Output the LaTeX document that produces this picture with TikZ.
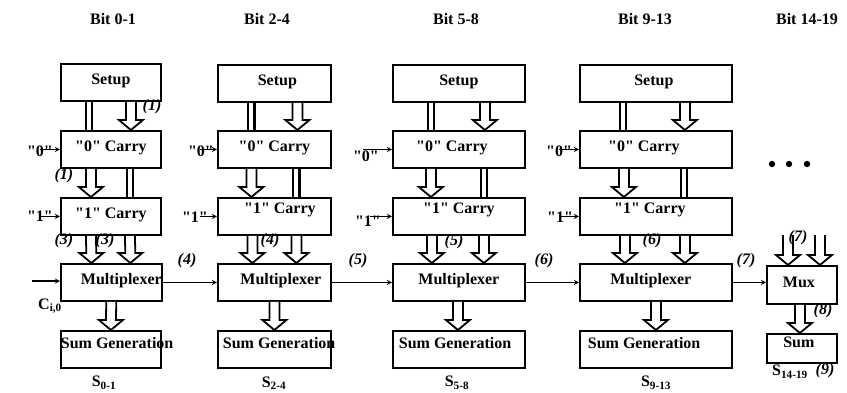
\documentclass[tikz,border=0pt]{standalone}
\usepackage{fontspec}
\setmainfont{Liberation Serif}
\usetikzlibrary{calc}

\begin{document}
\begin{tikzpicture}[x=1pt,y=-1pt,>=stealth,font=\fontsize{16}{18}\selectfont\bfseries,
  box/.style={draw,line width=1.8pt,minimum height=37pt,inner sep=0pt,anchor=north west,text height=11pt,text depth=6pt},
  top/.style={text depth=17pt},
  low/.style={text depth=12pt},
  nudge/.style={execute at begin node={\hspace*{#1}}},
  num/.style={font=\fontsize{16}{18}\selectfont\bfseries\itshape},
  thin/.style={->,line width=1.3pt},
  dbl/.style={double,double distance=4pt,line width=2.2pt},
  hollow/.style={fill=white,line width=1.8pt,line join=miter,to path={
    ($(\tikztostart)+(-5pt,0pt)$) -- ($(\tikztotarget)+(-5pt,10pt)$) -- ($(\tikztotarget)+(-12pt,10pt)$) -- (\tikztotarget)
    -- ($(\tikztotarget)+(12pt,10pt)$) -- ($(\tikztotarget)+(5pt,10pt)$) -- ($(\tikztostart)+(5pt,0pt)$)}}]
\useasboundingbox (0,0) rectangle (847,392);

% column titles
\node (b1) at (113,19) {Bit 0-1};
\node (b2) at (267,19) {Bit 2-4};
\node (b3) at (456,19) {Bit 5-8};
\node (b4) at (645,19) {Bit 9-13};
\node (b5) at (807,19) {Bit 14-19};

% bit 0-1
\node[box,minimum width=100pt] (s1) at (60,63) {Setup};
\node[box,minimum width=100pt] (z1) at (60,130) {\textquotedbl0\textquotedbl{} Carry};
\node[box,minimum width=100pt] (o1) at (60,197) {\textquotedbl1\textquotedbl{} Carry};
\node[box,minimum width=100pt,nudge=20pt] (m1) at (60,263) {Multiplexer};
\node[box,minimum width=100pt,low] (g1) at (60,330) {\makebox[100pt][l]{Sum Generation}};

% bit 2-4
\node[box,minimum width=113pt,nudge=6pt] (s2) at (217,64) {Setup};
\node[box,minimum width=113pt] (z2) at (217,130) {\textquotedbl0\textquotedbl{} Carry};
\node[box,minimum width=113pt,top,nudge=11pt] (o2) at (217,197) {\textquotedbl1\textquotedbl{} Carry};
\node[box,minimum width=113pt,nudge=13pt] (m2) at (217,263) {Multiplexer};
\node[box,minimum width=113pt,low] (g2) at (217,330) {\makebox[113pt][l]{\hspace*{5pt}Sum Generation}};

% bit 5-8
\node[box,minimum width=132pt] (s3) at (392,64) {Setup};
\node[box,minimum width=132pt,nudge=-14pt] (z3) at (392,130) {\textquotedbl0\textquotedbl{} Carry};
\node[box,minimum width=132pt,top] (o3) at (392,197) {\textquotedbl1\textquotedbl{} Carry};
\node[box,minimum width=132pt] (m3) at (392,263) {Multiplexer};
\node[box,minimum width=132pt,low] (g3) at (392,330) {\makebox[132pt][l]{\hspace*{6pt}Sum Generation}};

% bit 9-13
\node[box,minimum width=152pt,nudge=-4pt] (s4) at (579,64) {Setup};
\node[box,minimum width=152pt,nudge=-24pt] (z4) at (579,130) {\textquotedbl0\textquotedbl{} Carry};
\node[box,minimum width=152pt,top,nudge=-12pt] (o4) at (579,197) {\textquotedbl1\textquotedbl{} Carry};
\node[box,minimum width=152pt,nudge=-10pt] (m4) at (579,263) {Multiplexer};
\node[box,minimum width=152pt,low] (g4) at (579,330) {\makebox[152pt][l]{\hspace*{8pt}Sum Generation}};

% bit 14-19
\node[box,minimum width=70pt,minimum height=38pt,nudge=-6pt] (m5) at (766,265) {Mux};
\node[box,minimum width=70pt,minimum height=29pt,low,nudge=-6pt] (g5) at (766,333) {Sum};
\coordinate (t5a) at (788,235);
\coordinate (t5b) at (820,235);
\fill (772,164) circle (3.2pt) (789,164) circle (3.2pt) (807,164) circle (3.2pt);

% outputs
\node (r1) at (104,383) {S\textsubscript{0-1}};
\node (r2) at (274,383) {S\textsubscript{2-4}};
\node (r3) at (457,383) {S\textsubscript{5-8}};
\node (r4) at (656,383) {S\textsubscript{9-13}};
\node (r5) at (790,372) {S\textsubscript{14-19}};

% carry inputs
\node (q01) at (40,151) {\textquotedbl0\textquotedbl};
\node (q11) at (40,216) {\textquotedbl1\textquotedbl};
\node (q02) at (201,151) {\textquotedbl0\textquotedbl};
\node (q12) at (195,217) {\textquotedbl1\textquotedbl};
\node (q03) at (366,156) {\textquotedbl0\textquotedbl};
\node (q13) at (368,221) {\textquotedbl1\textquotedbl};
\node (q04) at (559,151) {\textquotedbl0\textquotedbl};
\node (q14) at (560,217) {\textquotedbl1\textquotedbl};
\draw[thin] (q01 |- z1.west) -- (z1.west);
\draw[thin] (q11 |- o1.west) -- (o1.west);
\draw[thin] ([xshift=-1pt]q02 |- z2.west) -- (z2.west);
\draw[thin] ([xshift=5pt]q12 |- o2.west) -- (o2.west);
\draw[thin] ([xshift=-3pt]q03 |- z3.west) -- (z3.west);
\draw[thin] ([xshift=2pt]q13 |- o3.west) -- (o3.west);
\draw[thin] (q04 |- z4.west) -- (z4.west);
\draw[thin] (q14 |- o4.west) -- (o4.west);

% carry in and ripple between blocks
\node (cin) at (50,306) {C\textsubscript{i,0}};
\coordinate (cst) at (32,281);
\draw[thin] (cst) -- (cst -| m1.west);
\draw[thin] (m1.east) -- (m2.west);
\draw[thin] (m2.east) -- (m3.west);
\draw[thin] (m3.east) -- (m4.west);
\draw[thin] (m4.east) -- (m4.east -| m5.west);

% buses, bit 0-1
\draw[dbl] ([xshift=-22pt]s1.south) -- ([xshift=-22pt]z1.north);
\draw[hollow] ([xshift=20pt]s1.south) to ([xshift=20pt]z1.north);
\draw[hollow] ([xshift=-20pt]z1.south) to ([xshift=-20pt]o1.north);
\draw[dbl] ([xshift=19pt]z1.south) -- ([xshift=19pt]o1.north);
\draw[hollow] ([xshift=-20pt]o1.south) to ([xshift=-20pt]m1.north);
\draw[hollow] ([xshift=19pt]o1.south) to ([xshift=19pt]m1.north);
\draw[hollow] (m1.south) to (g1.north);

% buses, bit 2-4
\draw[dbl] ([xshift=-23pt]s2.south) -- ([xshift=-23pt]z2.north);
\draw[hollow] ([xshift=23pt]s2.south) to ([xshift=23pt]z2.north);
\draw[hollow] ([xshift=-23pt]z2.south) to ([xshift=-23pt]o2.north);
\draw[dbl] ([xshift=22pt]z2.south) -- ([xshift=22pt]o2.north);
\draw[hollow] ([xshift=-22pt]o2.south) to ([xshift=-22pt]m2.north);
\draw[hollow] ([xshift=22pt]o2.south) to ([xshift=22pt]m2.north);
\draw[hollow] (m2.south) to (g2.north);

% buses, bit 5-8
\draw[dbl] ([xshift=-28pt]s3.south) -- ([xshift=-28pt]z3.north);
\draw[hollow] ([xshift=26pt]s3.south) to ([xshift=26pt]z3.north);
\draw[hollow] ([xshift=-28pt]z3.south) to ([xshift=-28pt]o3.north);
\draw[dbl] ([xshift=25pt]z3.south) -- ([xshift=25pt]o3.north);
\draw[hollow] ([xshift=-27pt]o3.south) to ([xshift=-27pt]m3.north);
\draw[hollow] ([xshift=25pt]o3.south) to ([xshift=25pt]m3.north);
\draw[hollow] ([xshift=-1pt]m3.south) to ([xshift=-1pt]g3.north);

% buses, bit 9-13
\draw[dbl] ([xshift=-33pt]s4.south) -- ([xshift=-33pt]z4.north);
\draw[hollow] ([xshift=29pt]s4.south) to ([xshift=29pt]z4.north);
\draw[hollow] ([xshift=-32pt]z4.south) to ([xshift=-32pt]o4.north);
\draw[dbl] ([xshift=28pt]z4.south) -- ([xshift=28pt]o4.north);
\draw[hollow] ([xshift=-31pt]o4.south) to ([xshift=-31pt]m4.north);
\draw[hollow] ([xshift=29pt]o4.south) to ([xshift=29pt]m4.north);
\draw[hollow] (m4.south) to (g4.north);

% buses, bit 14-19
\draw[hollow] (t5a) to (t5a |- m5.north);
\draw[hollow] (t5b) to (t5b |- m5.north);
\draw[hollow] ([xshift=-2pt]m5.south) to ([xshift=-2pt]g5.north);

% step numbers
\node[num] (n1) at (152,107) {(1)};
\node[num] (n2) at (64,176) {(1)};
\node[num] (n3) at (64,241) {(3)};
\node[num] (n4) at (105,241) {(3)};
\node[num] (n5) at (270,241) {(4)};
\node[num] (n6) at (454,242) {(5)};
\node[num] (n7) at (652,241) {(6)};
\node[num] (n8) at (187,261) {(4)};
\node[num] (n9) at (358,261) {(5)};
\node[num] (n10) at (544,261) {(6)};
\node[num] (n11) at (746,261) {(7)};
\node[num] (n12) at (798,238) {(7)};
\node[num] (n13) at (823,311) {(8)};
\node[num] (n14) at (825,371) {(9)};
\end{tikzpicture}
\end{document}
